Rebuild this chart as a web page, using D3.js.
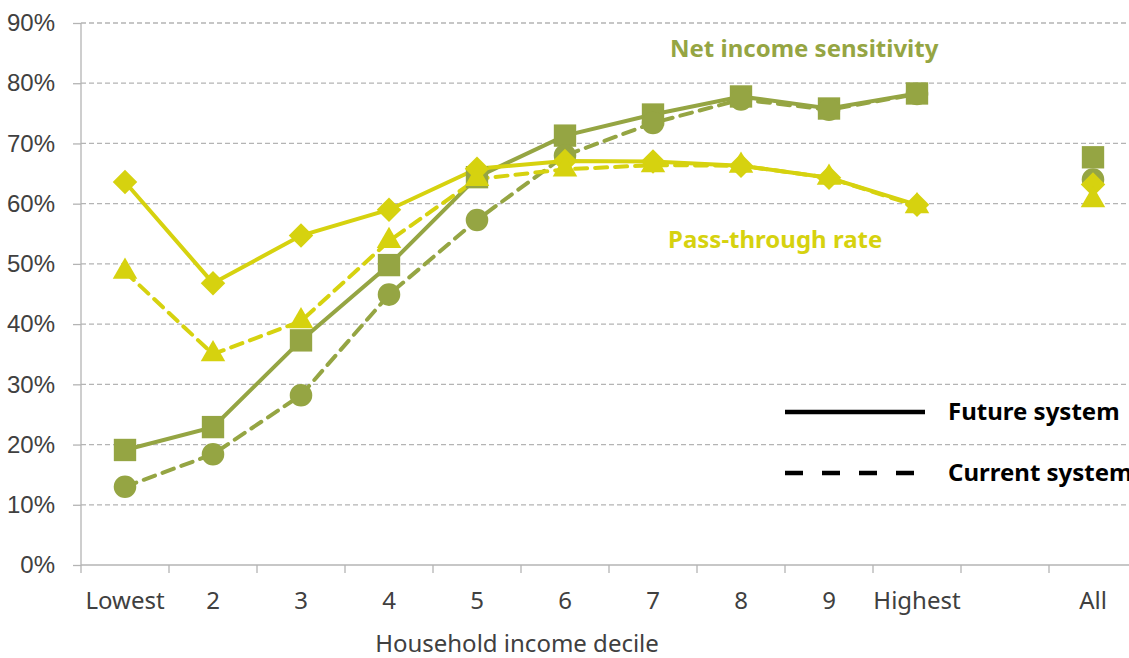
<!DOCTYPE html>
<meta charset="utf-8">
<style>
body { margin: 0; background: #fff; font-family: "Noto Sans", "Open Sans", sans-serif; }
.tick text { fill: #404040; font-size: 24px; }
</style>
<body>
<svg id="chart" width="1129" height="658"></svg>
<script src="https://cdn.jsdelivr.net/npm/d3@7"></script>
<script>
'use strict';

// categories (the empty "" is the gap before "All")
const categories = ["Lowest", "2", "3", "4", "5", "6", "7", "8", "9", "Highest", "", "All"];
const yTicks = [0, 10, 20, 30, 40, 50, 60, 70, 80, 90];

// values in percent, one per category (null = no point)
const netFuture  = [19.1, 22.9, 37.3, 49.8, 64.4, 71.3, 74.8, 77.8, 75.8, 78.3, null, 67.7];
const netCurrent = [13.0, 18.4, 28.2, 44.9, 57.3, 68.0, 73.4, 77.3, 75.6, 78.2, null, 64.0];
const passFuture  = [63.6, 46.8, 54.7, 59.0, 65.8, 67.1, 67.0, 66.3, 64.3, 59.8, null, 63.2];
const passCurrent = [48.7, 35.0, 40.5, 53.8, 64.1, 65.7, 66.4, 66.3, 64.3, 59.6, null, 60.6];

const olive = "#95a543", yellow = "#d6d20f";

const svg = d3.select("#chart");
const margin = {left: 81, right: 81, top: 23, bottom: 93};
const width = 1129, height = 658;

const x = d3.scaleBand()
    .domain(categories.map((c, i) => i))
    .range([margin.left, margin.left + 88 * categories.length]);
const y = d3.scaleLinear().domain([0, 90]).range([height - margin.bottom, margin.top]);
const cx = i => x(i) + x.bandwidth() / 2;

// gridlines
svg.append("g").selectAll("line")
  .data(yTicks.filter(t => t > 0))
  .enter().append("line")
    .attr("x1", margin.left).attr("x2", width)
    .attr("y1", d => y(d)).attr("y2", d => y(d))
    .attr("stroke", "#b4b4b4").attr("stroke-width", 1.3)
    .attr("stroke-dasharray", "5,3");

// y axis
const yAxis = svg.append("g")
    .attr("transform", `translate(${margin.left},0)`)
    .call(d3.axisLeft(y).tickValues(yTicks).tickFormat(d => d + "%").tickSize(8).tickPadding(18));
yAxis.select(".domain").attr("stroke", "#b4b4b4").attr("stroke-width", 1.3).attr("d", `M-0,${y(0)}V${y(90)}`);
yAxis.selectAll(".tick line").attr("stroke", "#b4b4b4").attr("stroke-width", 1.3);

// x axis: ticks at band edges, labels centred
const xg = svg.append("g").attr("transform", `translate(0,${y(0)})`);
xg.append("line").attr("x1", margin.left).attr("x2", width).attr("stroke", "#b4b4b4").attr("stroke-width", 1.5);
xg.selectAll(".edge").data(d3.range(categories.length))
  .enter().append("line").attr("class", "edge")
    .attr("x1", d => x(d)).attr("x2", d => x(d))
    .attr("y1", 0).attr("y2", 8)
    .attr("stroke", "#b4b4b4").attr("stroke-width", 1.3);
xg.selectAll(".lab").data(categories)
  .enter().append("text").attr("class", "lab")
    .attr("x", (d, i) => cx(i)).attr("y", 44)
    .attr("text-anchor", "middle")
    .attr("fill", "#404040").attr("font-size", 24)
    .text(d => d);

svg.append("text")
    .attr("x", 517).attr("y", 652)
    .attr("text-anchor", "middle")
    .attr("fill", "#404040").attr("font-size", 24)
    .text("Household income decile");

// lines (decile points only; "All" drawn as marker)
const line = d3.line()
    .defined((d, i) => d !== null && i < 10)
    .x((d, i) => cx(i)).y(d => y(d));

const series = [
  {values: netFuture, color: olive, dash: null, shape: d3.symbolSquare, size: 500, rot: 0},
  {values: netCurrent, color: olive, dash: "12,8", shape: d3.symbolCircle, size: 400, rot: 0},
  {values: passFuture, color: yellow, dash: null, shape: d3.symbolSquare, size: 300, rot: 45},
  {values: passCurrent, color: yellow, dash: "12,8", shape: d3.symbolTriangle, size: 260, rot: 0}
];

series.forEach(s => {
  svg.append("path")
      .datum(s.values)
      .attr("fill", "none")
      .attr("stroke", s.color)
      .attr("stroke-width", 4)
      .attr("stroke-dasharray", s.dash)
      .attr("stroke-linecap", s.dash ? "round" : "butt")
      .attr("d", line);
});
series.forEach(s => {
  svg.append("g").selectAll("path")
    .data(s.values.map((v, i) => ({v, i})).filter(d => d.v !== null))
    .enter().append("path")
      .attr("transform", d => `translate(${cx(d.i)},${y(d.v)}) rotate(${s.rot})`)
      .attr("d", d3.symbol().type(s.shape).size(s.size))
      .attr("fill", s.color);
});

// series labels
svg.append("text").attr("x", 670).attr("y", 57)
    .attr("fill", olive).attr("font-weight", "bold").attr("font-size", 24)
    .text("Net income sensitivity");
svg.append("text").attr("x", 668).attr("y", 248)
    .attr("fill", yellow).attr("font-weight", "bold").attr("font-size", 24)
    .text("Pass-through rate");

// legend
const legend = [
  {label: "Future system", dash: null, y: 412},
  {label: "Current system", dash: "18,19", y: 473}
];
legend.forEach(l => {
  svg.append("line")
      .attr("x1", 785).attr("x2", 925)
      .attr("y1", l.y).attr("y2", l.y)
      .attr("stroke", "#000").attr("stroke-width", 4.5)
      .attr("stroke-dasharray", l.dash);
  svg.append("text")
      .attr("x", 948).attr("y", l.y + 8)
      .attr("fill", "#000").attr("font-weight", "bold").attr("font-size", 24)
      .text(l.label);
});
</script>
</body>
